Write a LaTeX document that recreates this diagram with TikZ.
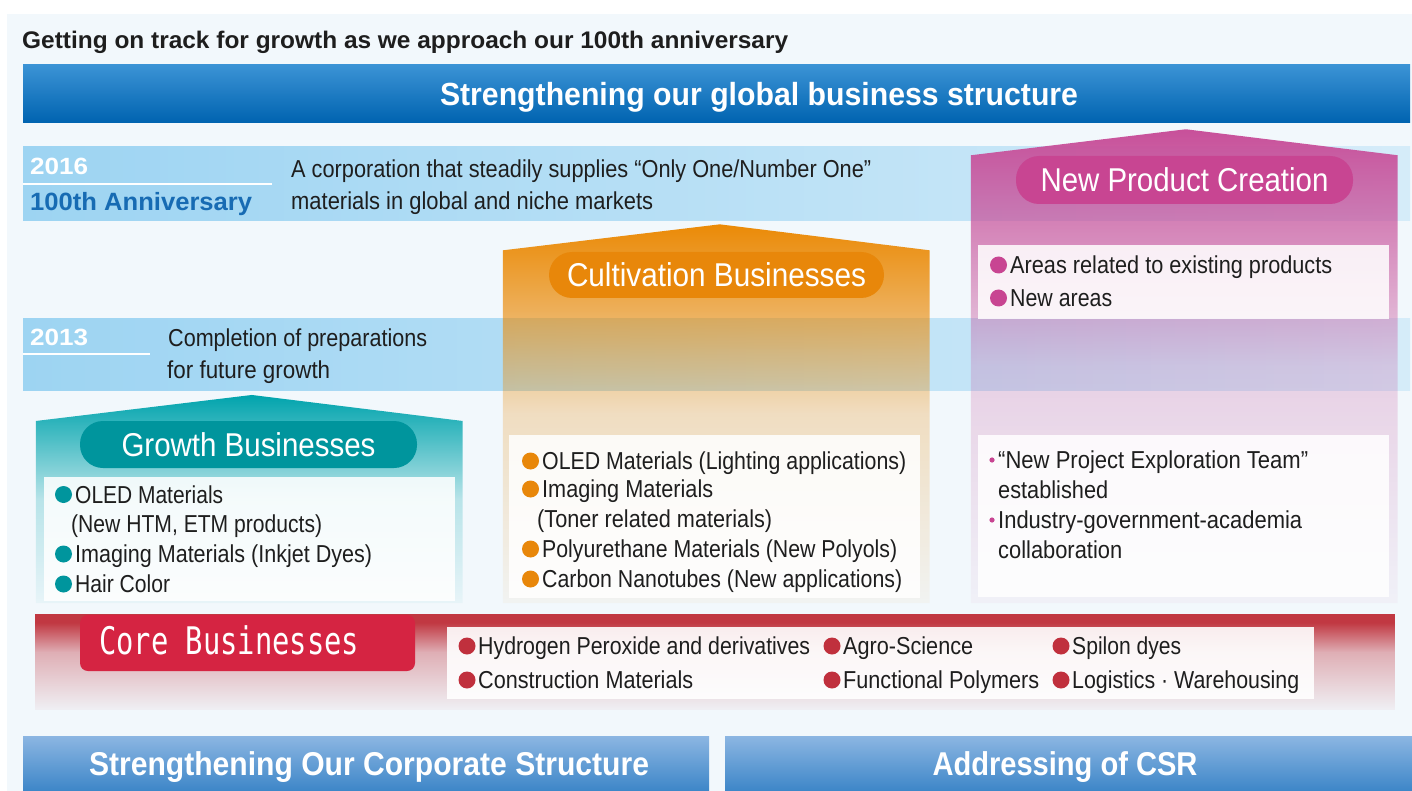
\documentclass[tikz,border=0pt]{standalone}
\usepackage{fontspec}
\usepackage{graphicx}
\setmainfont{Liberation Sans}
\newfontfamily\coremono{DejaVu Sans Mono}
\usetikzlibrary{fadings}

\definecolor{bgc}{HTML}{F2F8FC}
\definecolor{ink}{HTML}{1E1E1E}
\definecolor{barTop}{HTML}{3B93D5}
\definecolor{barMid}{HTML}{0069B8}
\definecolor{barBot}{HTML}{0063B0}
\definecolor{bandL}{HTML}{9DD4F2}
\definecolor{bandR}{HTML}{D5ECF9}
\definecolor{yearblue}{HTML}{176BB3}
\definecolor{tealH}{HTML}{00A4AD}
\definecolor{tealP}{HTML}{00959D}
\definecolor{orangeH}{HTML}{EB8A06}
\definecolor{orangeP}{HTML}{E8870A}
\definecolor{pinkH}{HTML}{C8509A}
\definecolor{pinkP}{HTML}{C84592}
\definecolor{coreband}{HTML}{C13842}
\definecolor{corepill}{HTML}{D52442}
\definecolor{coredot}{HTML}{C0303D}
\definecolor{lowTop}{HTML}{8CB6E2}
\definecolor{lowBot}{HTML}{3D86C8}

% squeeze or stretch a text horizontally to a given width (in pt)
\newlength\fitlen
\newcommand\fitw[2]{\settowidth\fitlen{#2}\pgfmathsetmacro\fitfac{#1/\fitlen}\scalebox{\fitfac}[1]{#2}}

% house bodies: solid at the roof, fading out towards the floor
% (the central 50bp square is what gets fitted to the path)
\begin{tikzfadingfrompicture}[name=housefade]
  \fill[transparent!0] (-50bp,50bp) rectangle (50bp,25bp);
  \shade[top color=transparent!0, bottom color=transparent!30] (-50bp,25bp) rectangle (50bp,15bp);
  \shade[top color=transparent!30, bottom color=transparent!76] (-50bp,15bp) rectangle (50bp,0bp);
  \shade[top color=transparent!76, bottom color=transparent!96] (-50bp,0bp) rectangle (50bp,-25bp);
  \fill[transparent!96] (-50bp,-25bp) rectangle (50bp,-50bp);
\end{tikzfadingfrompicture}

% core band: red strip on top, fading downwards
\begin{tikzfadingfrompicture}[name=corefade]
  \fill[transparent!0] (-50bp,50bp) rectangle (50bp,20.5bp);
  \shade[top color=transparent!0, bottom color=transparent!62] (-50bp,20.5bp) rectangle (50bp,5bp);
  \shade[top color=transparent!62, bottom color=transparent!96] (-50bp,5bp) rectangle (50bp,-25bp);
  \fill[transparent!96] (-50bp,-25bp) rectangle (50bp,-50bp);
\end{tikzfadingfrompicture}

\tikzset{
  fs/.code={\pgfmathsetmacro\capht{0.716*#1}\pgfkeysalso{/tikz/font={\fontsize{#1pt}{#1pt}\selectfont},/tikz/text height=\capht pt,/tikz/text depth=0pt}},
  fsb/.code={\pgfmathsetmacro\capht{0.716*#1}\pgfkeysalso{/tikz/font={\bfseries\fontsize{#1pt}{#1pt}\selectfont},/tikz/text height=\capht pt,/tikz/text depth=0pt}},
  lbl/.style={anchor=west, inner sep=0pt, text=ink, fs=24.5},
  yearlbl/.style={anchor=west, inner sep=0pt, text=white, fsb=23.5},
  headlbl/.style={anchor=center, inner sep=0pt, text=white, fsb=#1},
  pill/.style={rounded corners=23pt, inner sep=0pt, text=white, fs=33},
  innerbox/.style={fill=white, fill opacity=0.86},
}

\begin{document}
\begin{tikzpicture}[x=1pt,y=-1pt]
\useasboundingbox (0,0) rectangle (1412,791);
\fill[white] (0,0) rectangle (1412,791);
\fill[bgc] (7,14) rectangle (1412,791);

% heading and global bar
\node[anchor=west, inner sep=0pt, text=ink, fsb=24] (head) at (22,40)
  {\fitw{766}{Getting on track for growth as we approach our 100th anniversary}};
\shade[top color=barTop, middle color=barMid, bottom color=barBot] (23,65) rectangle (1410,123);
\node[headlbl=32] (global) at (759,94) {\fitw{638}{Strengthening our global business structure}};

% milestone bands
\shade[left color=bandL, right color=bandR] (23,147) rectangle (1410,221);
\draw[white, line width=2.5pt] (23,184) -- (272,184);
\shade[left color=bandL, right color=bandR] (23,318) rectangle (1410,390);
\draw[white, line width=2.5pt] (23,354) -- (150,354);

\node[yearlbl] (y16) at (30,166.5) {\fitw{58}{2016}};
\node[anchor=west, inner sep=0pt, text=yearblue, fsb=25] (anniv) at (30,202) {\fitw{222}{100th Anniversary}};
\node[lbl] (goal1) at (291,168.5) {\fitw{580}{A corporation that steadily supplies “Only One/Number One”}};
\node[lbl] (goal2) at (291,201) {\fitw{362}{materials in global and niche markets}};

\node[yearlbl] (y13) at (30,337) {\fitw{58}{2013}};
\node[lbl] (prep1) at (168,337.5) {\fitw{259}{Completion of preparations}};
\node[lbl] (prep2) at (167,370) {\fitw{163}{for future growth}};

% houses
\fill[tealH, path fading=housefade] (36,421) -- (252,395) -- (463,421) -- (463,603) -- (36,603) -- cycle;
\fill[orangeH, path fading=housefade] (503,250) -- (720,224) -- (930,250) -- (930,603) -- (503,603) -- cycle;
\fill[pinkH, path fading=housefade] (971,155) -- (1186,129) -- (1398,155) -- (1398,603) -- (971,603) -- cycle;

% house titles
\node[pill, fill=tealP, minimum width=337pt, minimum height=47pt] (gpill) at (248.5,444.5) {\fitw{254}{Growth Businesses}};
\node[pill, fill=orangeP, minimum width=335pt, minimum height=46pt] (cpill) at (716.5,275) {\fitw{299}{Cultivation Businesses}};
\node[pill, fill=pinkP, minimum width=337pt, minimum height=48pt] (npill) at (1184.5,180) {\fitw{288}{New Product Creation}};

% inner boxes
\fill[innerbox] (44,477) rectangle (455,601);
\fill[innerbox] (509,435) rectangle (920,598);
\fill[innerbox] (978,245) rectangle (1389,319);
\fill[innerbox] (978,435) rectangle (1389,597);

% growth businesses
\node[lbl] (g1) at (75,494.5) {\fitw{148}{OLED Materials}};
\node[lbl] (g2) at (71,523.5) {\fitw{251}{(New HTM, ETM products)}};
\node[lbl] (g3) at (75,554) {\fitw{297}{Imaging Materials (Inkjet Dyes)}};
\node[lbl] (g4) at (75,584) {\fitw{95}{Hair Color}};
\foreach \n in {g1,g3,g4} \fill[tealP] ([xshift=-11.5pt]\n.west) circle (8.5pt);

% cultivation businesses
\node[lbl] (c1) at (542,461) {\fitw{364}{OLED Materials (Lighting applications)}};
\node[lbl] (c2) at (542,489) {\fitw{171}{Imaging Materials}};
\node[lbl] (c3) at (537,519) {\fitw{235}{(Toner related materials)}};
\node[lbl] (c4) at (542,549) {\fitw{355}{Polyurethane Materials (New Polyols)}};
\node[lbl] (c5) at (542,579) {\fitw{360}{Carbon Nanotubes (New applications)}};
\foreach \n in {c1,c2,c4,c5} \fill[orangeP] ([xshift=-11.5pt]\n.west) circle (8.5pt);

% new product creation
\node[lbl] (n1) at (1010,265) {\fitw{322}{Areas related to existing products}};
\node[lbl] (n2) at (1010,298) {\fitw{102}{New areas}};
\foreach \n in {n1,n2} \fill[pinkP] ([xshift=-11.5pt]\n.west) circle (8.5pt);
\node[lbl] (n3) at (998,460) {\fitw{310}{“New Project Exploration Team”}};
\node[lbl] (n4) at (998,490) {\fitw{110}{established}};
\node[lbl] (n5) at (998,520) {\fitw{304}{Industry-government-academia}};
\node[lbl] (n6) at (998,550) {\fitw{124}{collaboration}};
\foreach \n in {n3,n5} \fill[pinkP] ([xshift=-6pt]\n.west) circle (2.6pt);

% core businesses
\fill[coreband, path fading=corefade] (36,614) rectangle (1399,710);
\node[fill=corepill, rounded corners=8pt, minimum width=335pt, minimum height=56pt, inner sep=0pt] (kpill) at (247.5,643) {};
\node[anchor=west, inner sep=0pt, text=white, font=\coremono\fontsize{38pt}{38pt}\selectfont, text height=27.7pt, text depth=0pt] (ktitle) at (99,641) {\fitw{260}{Core Businesses}};
\fill[fill=white, fill opacity=0.9] (447,627) rectangle (1314,699);
\node[lbl] (k1) at (478,646) {\fitw{332}{Hydrogen Peroxide and derivatives}};
\node[lbl] (k2) at (478,680) {\fitw{215}{Construction Materials}};
\node[lbl] (k3) at (843,646) {\fitw{130}{Agro-Science}};
\node[lbl] (k4) at (843,680) {\fitw{196}{Functional Polymers}};
\node[lbl] (k5) at (1072,646) {\fitw{109}{Spilon dyes}};
\node[lbl] (k6) at (1072,680) {\fitw{227}{Logistics · Warehousing}};
\foreach \n in {k1,k2,k3,k4,k5,k6} \fill[coredot] ([xshift=-11pt]\n.west) circle (8.5pt);

% foundation bars
\shade[top color=lowTop, bottom color=lowBot] (23,736) rectangle (709,791);
\shade[top color=lowTop, bottom color=lowBot] (725,736) rectangle (1412,791);
\node[headlbl=33] (corp) at (369,763.5) {\fitw{560}{Strengthening Our Corporate Structure}};
\node[headlbl=33] (csr) at (1065,763.5) {\fitw{265}{Addressing of CSR}};
\end{tikzpicture}
\end{document}
